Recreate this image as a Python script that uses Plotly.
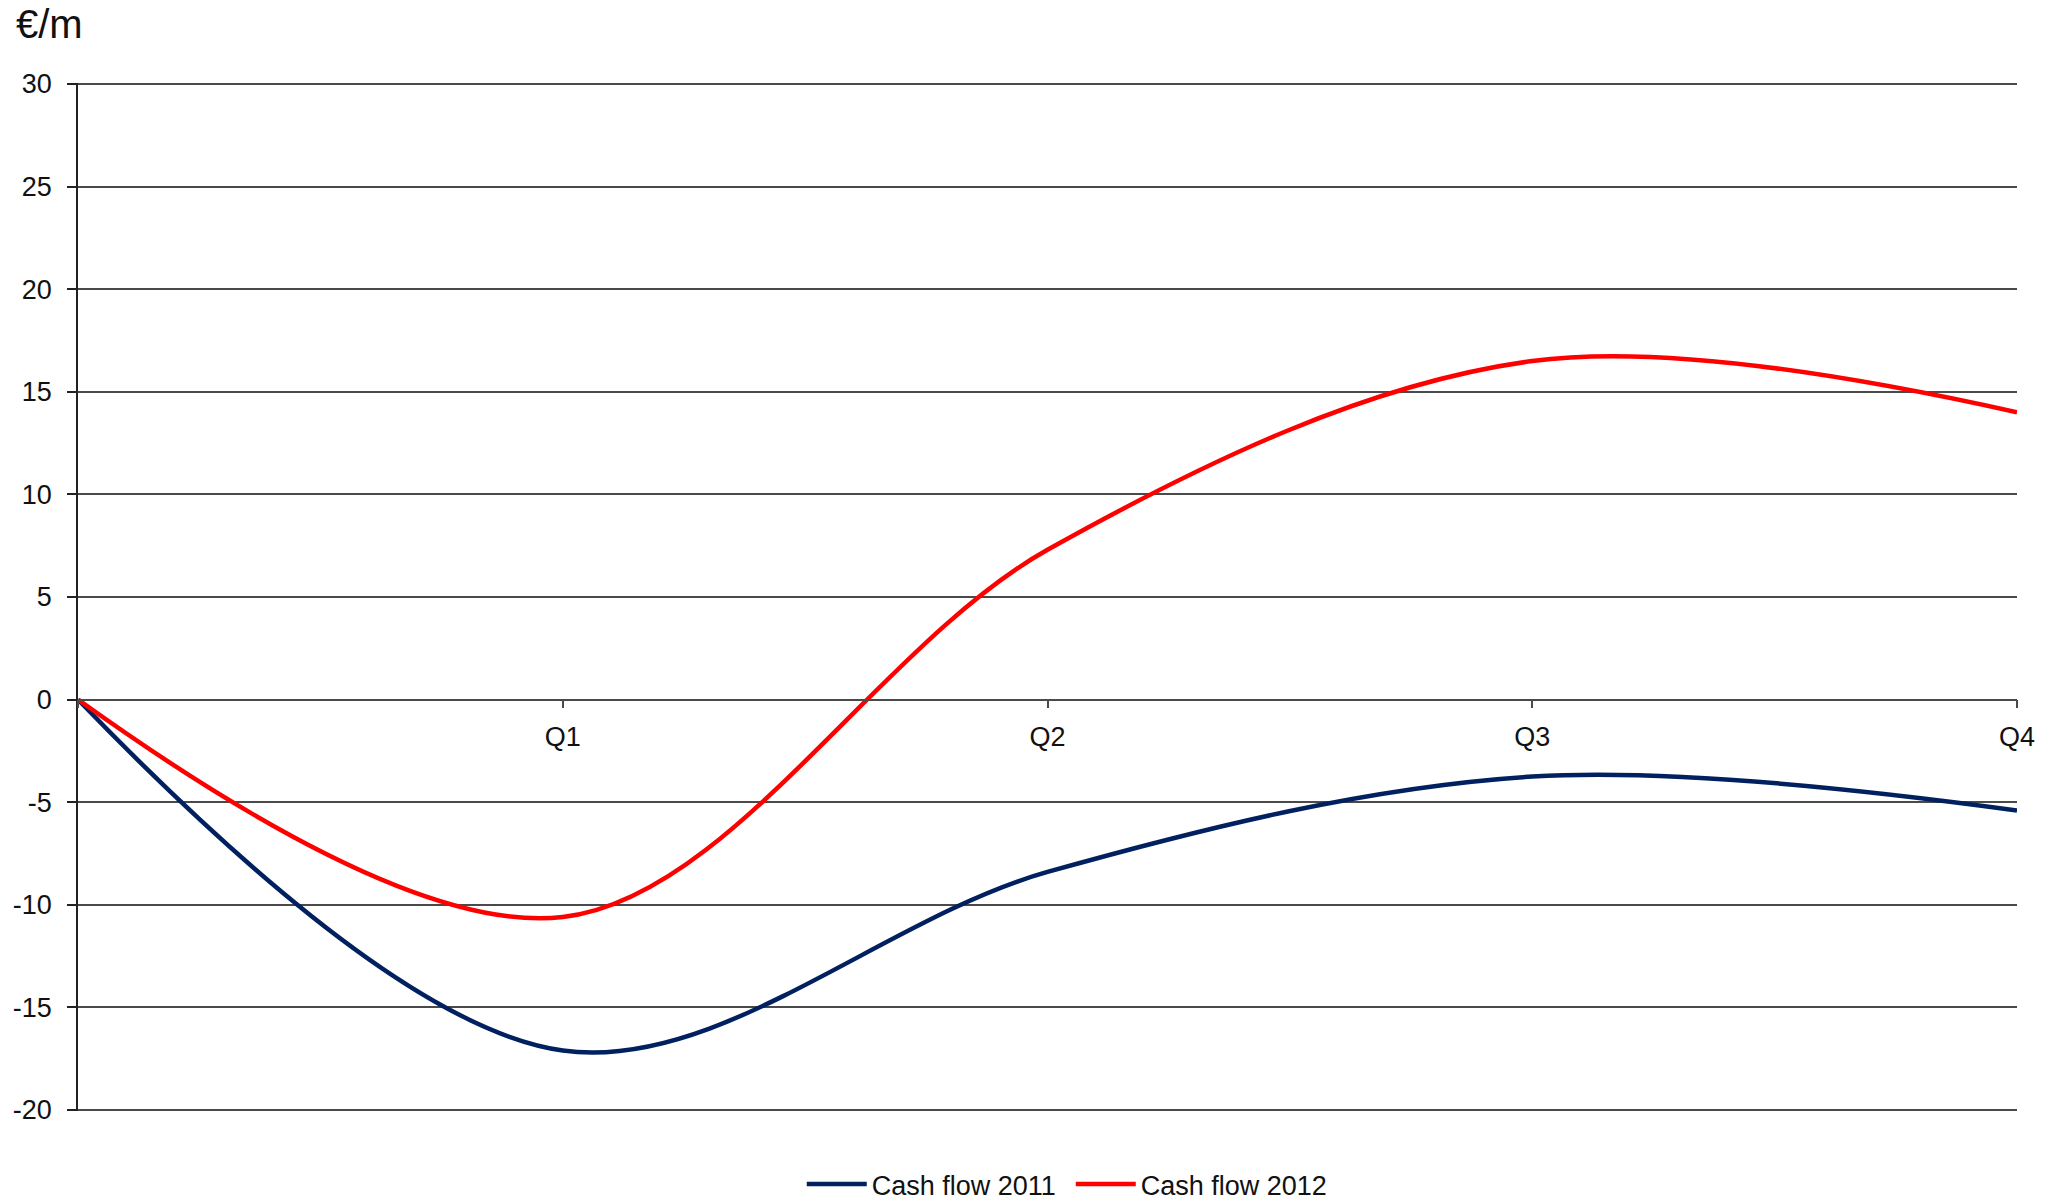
import plotly.graph_objects as go

# Cumulative cash flow by quarter, € millions
periods = ["", "Q1", "Q2", "Q3", "Q4"]
cash_flow_2011 = [0, -17.1, -8.4, -3.75, -5.4]
cash_flow_2012 = [0, -10.6, 7.3, 16.5, 14.0]

y_ticks = [-20, -15, -10, -5, 0, 5, 10, 15, 20, 25, 30]
y_tick_text = [str(v) for v in y_ticks]
# a hair of padding so the outermost grid lines are still drawn
y_range = [-20.05, 30.05]

x_pos = list(range(len(periods)))

fig = go.Figure()
fig.add_trace(go.Scatter(
    x=x_pos, y=cash_flow_2011, name="Cash flow 2011", mode="lines",
    line=dict(color="#002060", width=4.5, shape="spline", smoothing=1.0),
))
fig.add_trace(go.Scatter(
    x=x_pos, y=cash_flow_2012, name="Cash flow 2012", mode="lines",
    line=dict(color="#FF0000", width=4.5, shape="spline", smoothing=1.0),
))

font_family = "Liberation Sans, Arial, sans-serif"
grid_color = "#4a4a4a"

# category axis crosses the value axis at zero
zero_pos = (0 - y_range[0]) / (y_range[1] - y_range[0])

fig.update_layout(
    width=2053, height=1201,
    margin=dict(l=78, r=36, t=83, b=90, autoexpand=False),
    paper_bgcolor="white", plot_bgcolor="white",
    font=dict(family=font_family, size=27, color="#111111"),
    showlegend=True,
    legend=dict(
        orientation="h", x=0.512, xanchor="center", y=-0.0954, yanchor="bottom",
        font=dict(size=27, color="#111111"), itemwidth=60, entrywidth=194,
        bgcolor="rgba(0,0,0,0)",
    ),
    xaxis=dict(
        range=[x_pos[0], x_pos[-1]],
        tickmode="array", tickvals=x_pos, ticktext=periods,
        anchor="free", position=zero_pos,
        showgrid=False, zeroline=False,
        showline=True, linecolor=grid_color, linewidth=1.6,
        ticks="outside", ticklen=8, tickwidth=1.6, tickcolor=grid_color,
        ticklabelstandoff=5,
        tickfont=dict(size=27, color="#111111"),
    ),
    yaxis=dict(
        range=y_range, tickmode="array", tickvals=y_ticks, ticktext=y_tick_text,
        showgrid=True, gridcolor=grid_color, gridwidth=1.6,
        zeroline=False,
        showline=True, linecolor="#222222", linewidth=1.6,
        ticks="outside", ticklen=9, tickwidth=1.6, tickcolor="#222222",
        ticklabelstandoff=10,
        tickfont=dict(size=27, color="#111111"),
    ),
    annotations=[dict(
        text="€/m", xref="paper", yref="paper",
        x=-0.033, y=1.0575, xanchor="left", yanchor="middle",
        showarrow=False, font=dict(size=40, color="#111111"),
    )],
)

fig.write_html("out.html")
